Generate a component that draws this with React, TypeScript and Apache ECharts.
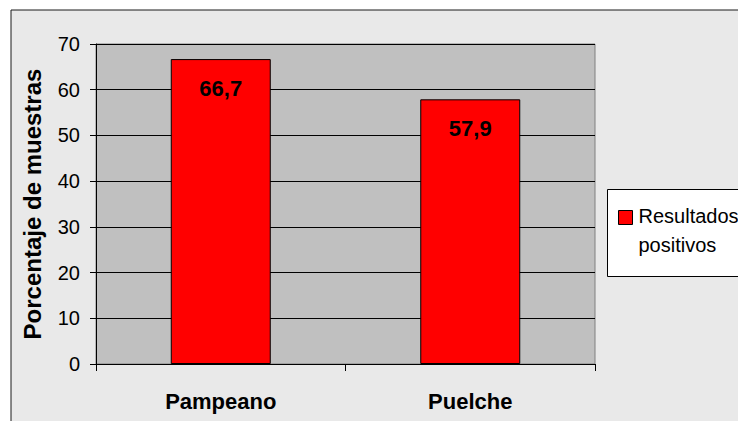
import React, { useEffect, useRef } from "react";
import * as echarts from "echarts";

const categories = ["Pampeano", "Puelche"];
const positivos = [66.7, 57.9];
const seriesName = "Resultados positivos";
const legendLines = ["Resultados", "positivos"];
const yAxisTitle = "Porcentaje de muestras";

const FONT = "Arial, 'Liberation Sans', sans-serif";

export default function App() {
  const ref = useRef<HTMLDivElement>(null);

  useEffect(() => {
    if (!ref.current) return;
    const chart = echarts.init(ref.current, null, { renderer: "svg" });
    chart.setOption({
      animation: false,
      backgroundColor: "#ffffff",
      textStyle: { fontFamily: FONT },
      graphic: [
        {
          type: "rect",
          z: -10,
          silent: true,
          shape: { x: 11, y: 10, width: 760, height: 440 },
          style: { fill: "#e9e9e9", stroke: "#1a1a1a", lineWidth: 1 },
        },
        {
          type: "group",
          left: 607,
          top: 189,
          children: [
            {
              type: "rect",
              shape: { x: 0, y: 0, width: 150, height: 87 },
              style: { fill: "#ffffff", stroke: "#000000", lineWidth: 1 },
            },
            {
              type: "rect",
              shape: { x: 11, y: 21, width: 14, height: 14 },
              style: { fill: "#ff0000", stroke: "#000000", lineWidth: 1 },
            },
            {
              type: "text",
              x: 31,
              y: 12,
              style: {
                text: legendLines.join("\n"),
                fontFamily: FONT,
                fontSize: 20,
                lineHeight: 29,
                fill: "#000000",
              },
            },
          ],
        },
      ],
      grid: {
        left: 96,
        top: 44,
        width: 499,
        height: 320,
        show: true,
        backgroundColor: "#c0c0c0",
        borderColor: "#808080",
        borderWidth: 1,
      },
      xAxis: {
        type: "category",
        data: categories,
        axisLine: { lineStyle: { color: "#000000", width: 1 } },
        axisTick: { show: true, length: 7, alignWithLabel: false, lineStyle: { color: "#000000" } },
        axisLabel: {
          margin: 26,
          fontSize: 22,
          fontWeight: "bold",
          color: "#000000",
          fontFamily: FONT,
        },
      },
      yAxis: {
        type: "value",
        min: 0,
        max: 70,
        interval: 10,
        name: yAxisTitle,
        nameLocation: "middle",
        nameRotate: 90,
        nameGap: 52,
        nameTextStyle: {
          fontSize: 24,
          fontWeight: "bold",
          color: "#000000",
          fontFamily: FONT,
        },
        axisLine: { show: true, lineStyle: { color: "#000000", width: 1 } },
        axisTick: { show: true, length: 6, lineStyle: { color: "#000000" } },
        axisLabel: { margin: 16, fontSize: 20, color: "#000000", fontFamily: FONT },
        splitLine: { show: true, lineStyle: { color: "#000000", width: 1 } },
      },
      series: [
        {
          name: seriesName,
          type: "bar",
          data: positivos,
          barWidth: 100,
          itemStyle: { color: "#ff0000", borderColor: "#000000", borderWidth: 1 },
          label: {
            show: true,
            position: "insideTop",
            distance: 18,
            fontSize: 22,
            fontWeight: "bold",
            color: "#000000",
            fontFamily: FONT,
            formatter: (p: any) => String(p.value).replace(".", ","),
          },
        },
      ],
    });
    return () => chart.dispose();
  }, []);

  return (
    <div style={{ position: "absolute", left: 0, top: 0, width: 738, height: 421 }}>
      <div ref={ref} style={{ width: 738, height: 421 }} />
    </div>
  );
}
